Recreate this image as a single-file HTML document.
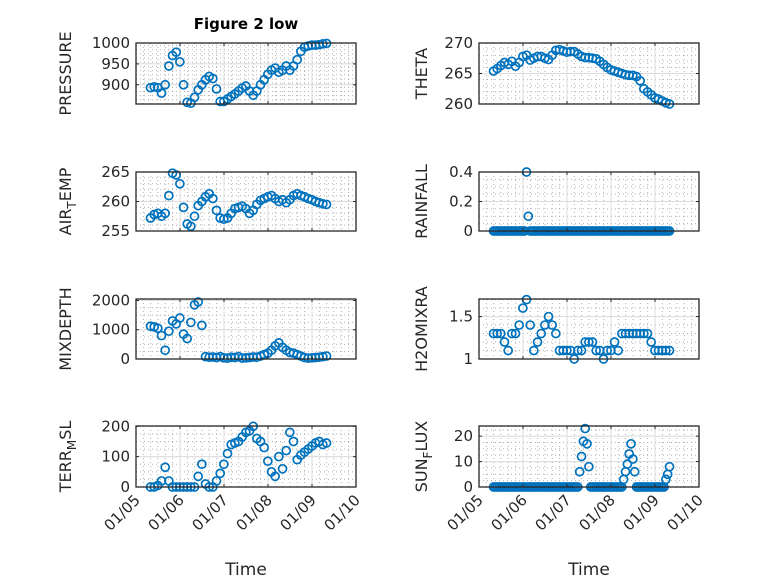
<!DOCTYPE html>
<html><head><meta charset="utf-8">
<style>
html,body{margin:0;padding:0;background:#fff;}
svg{display:block;font-family:"DejaVu Sans","Liberation Sans",sans-serif;}
</style></head>
<body>
<svg id="fig" width="778" height="583" viewBox="0 0 778 583" xmlns="http://www.w3.org/2000/svg">
<rect width="778" height="583" fill="#fff"/>
<text x="246" y="29" text-anchor="middle" font-size="15" font-weight="bold" fill="#000">Figure 2 low</text>
</svg>
<script>
// ---- data (2-hourly series) ----
const pressureVals=[893,895,893,880,900,945,970,978,955,900,858,856,870,888,900,912,920,915,890,860,860,866,872,878,885,892,897,885,875,885,900,912,925,935,940,930,935,945,935,945,960,980,990,993,995,995,996,998,999];
const thetaVals=[265.4,265.8,266.3,266.8,266.5,267,266.2,266.8,267.8,268,267.2,267.5,267.8,267.8,267.5,267.3,268,268.8,268.9,268.7,268.5,268.6,268.6,268.2,267.8,267.6,267.6,267.5,267.4,267,266.5,266,265.6,265.4,265.2,265,264.8,264.7,264.7,264.5,263.8,262.5,262,261.5,261,260.8,260.5,260.2,260];
const airTempVals=[257.2,257.8,258,257.5,258,261,264.8,264.5,263,259,256.2,255.8,257.5,259.3,260,260.8,261.3,260.5,258.5,257.2,257,257.2,258,258.8,259,259.2,258.8,258,258.5,259.5,260.2,260.5,260.8,261,260.5,260,260.3,259.8,260.3,261,261.3,261,260.8,260.5,260.3,260,259.8,259.6,259.5];
const mixDepthVals=[1120,1100,1050,800,300,950,1300,1200,1400,850,700,1250,1850,1950,1150,80,60,70,50,80,40,30,60,50,80,30,40,50,70,60,100,150,200,300,450,550,400,300,220,200,150,100,50,30,40,50,60,80,100];
const h2oVals=[1.3,1.3,1.3,1.2,1.1,1.3,1.3,1.4,1.6,1.7,1.4,1.1,1.2,1.3,1.4,1.5,1.4,1.3,1.1,1.1,1.1,1.1,1.0,1.1,1.1,1.2,1.2,1.2,1.1,1.1,1.0,1.1,1.1,1.2,1.1,1.3,1.3,1.3,1.3,1.3,1.3,1.3,1.3,1.2,1.1,1.1,1.1,1.1,1.1];
const terrVals=[0,0,5,20,65,20,0,0,0,0,0,0,0,35,75,10,0,0,20,45,75,110,140,145,150,165,180,185,200,160,150,130,85,50,35,100,60,120,180,150,90,105,115,125,135,145,150,140,145];
// ---- data (hourly series) ----
const rainVals=[
0,0,0,0,0,0,0,0,0,0,
0,0,0,0,0,0,0,0,0.4,0.1,
0,0,0,0,0,0,0,0,0,0,
0,0,0,0,0,0,0,0,0,0,
0,0,0,0,0,0,0,0,0,0,
0,0,0,0,0,0,0,0,0,0,
0,0,0,0,0,0,0,0,0,0,
0,0,0,0,0,0,0,0,0,0,
0,0,0,0,0,0,0,0,0,0,
0,0,0,0,0,0,0];
const sunVals=[
0,0,0,0,0,0,0,0,0,0,
0,0,0,0,0,0,0,0,0,0,
0,0,0,0,0,0,0,0,0,0,
0,0,0,0,0,0,0,0,0,0,
0,0,0,0,0,0,0,
6,12,18,23,17,8,
0,0,0,0,0,0,0,0,0,0,
0,0,0,0,0,0,0,0,
3,6,9,13,17,11,6,
0,0,0,0,0,0,0,0,0,0,
0,0,0,0,0,0,
3,5,8];
const xTickLabels=["01/05","01/06","01/07","01/08","01/09","01/10"];
const xTickDays=[5,6,7,8,9,10];
const pressureTicks=[900,950,1000];
const thetaTicks=[260,265,270];
const airTempTicks=[255,260,265];
const rainTicks=[0,0.2,0.4];
const mixTicks=[0,1000,2000];
const h2oTicks=[1,1.5];
const terrTicks=[0,100,200];
const sunTicks=[0,10,20];

const NS="http://www.w3.org/2000/svg";
const svg=document.getElementById('fig');
function el(tag,attrs,parent){const e=document.createElementNS(NS,tag);for(const k in attrs)e.setAttribute(k,attrs[k]);(parent||svg).appendChild(e);return e;}
const t2=pressureVals.map((_,i)=>5.33+i/12);
const tRain=rainVals.map((_,i)=>5.33+i/24);
const tSun=sunVals.map((_,i)=>5.33+i/24);

function panel(cfg){
  const x0=cfg.x0,x1=cfg.x0+220,y0=cfg.y0,y1=cfg.y1;
  const g=el('g',{});
  
  
  const xs=d=>x0+(d-5)/5*(x1-x0);
  const ys=v=>y1-(v-cfg.ymin)/(cfg.ymax-cfg.ymin)*(y1-y0);
  for(let d=5;d<10;d+=1){for(let k=1;k<6;k++){const X=xs(d+k/6);const l=el('line',{x1:X,x2:X,y1:y0,y2:y1,stroke:'#b0b0b0','stroke-width':1,'stroke-dasharray':'1 3'},g);}}
  for(let v=cfg.ymin;v<=cfg.ymax+1e-9;v+=cfg.minor){const Y=ys(v);const l=el('line',{x1:x0,x2:x1,y1:Y,y2:Y,stroke:'#b0b0b0','stroke-width':1,'stroke-dasharray':'1 3'},g);}
  xTickDays.forEach(d=>{const X=xs(d);const l=el('line',{x1:X,x2:X,y1:y0,y2:y1,stroke:'#dcdcdc','stroke-width':1},g);});
  cfg.ticks.forEach(v=>{const Y=ys(v);const l=el('line',{x1:x0,x2:x1,y1:Y,y2:Y,stroke:'#dcdcdc','stroke-width':1},g);});
  cfg.vals.forEach((v,i)=>{if(cfg.t[i]===undefined)return;const c=el('circle',{cx:xs(cfg.t[i]),cy:ys(v),r:4,fill:'none',stroke:'#0072BD','stroke-width':1.7},g);});
  const b=el('rect',{x:x0,y:y0,width:x1-x0,height:y1-y0,fill:'none',stroke:'#262626','stroke-width':1.3},g);
  
  xTickDays.forEach((d,i)=>{const X=xs(d);
    el('line',{x1:X,x2:X,y1:y1,y2:y1-3,stroke:'#262626'},g);el('line',{x1:X,x2:X,y1:y0,y2:y0+3,stroke:'#262626'},g);
    if(cfg.xlabels){const tx=el('text',{x:X+5,y:y1+14,'font-size':15,fill:'#262626','text-anchor':'end',transform:`rotate(-45 ${X+5} ${y1+14})`},g);tx.textContent=xTickLabels[i];}
  });
  cfg.ticks.forEach((v,i)=>{const Y=ys(v);
    el('line',{x1:x0,x2:x0+3,y1:Y,y2:Y,stroke:'#262626'},g);el('line',{x1:x1,x2:x1-3,y1:Y,y2:Y,stroke:'#262626'},g);
    const tx=el('text',{x:x0-6,y:Y+5,'font-size':15,fill:'#262626','text-anchor':'end'},g);tx.textContent=cfg.tickLabels[i];
  });
  const cy=(y0+y1)/2;
  const yl=el('text',{x:cfg.lx,y:cy,'font-size':16,fill:'#262626','text-anchor':'middle',transform:`rotate(-90 ${cfg.lx} ${cy})`},g);
  
  if(cfg.sub){const a=el('tspan',{},yl);a.textContent=cfg.label[0];const s=el('tspan',{'font-size':12,dy:5},yl);s.textContent=cfg.label[1];const c=el('tspan',{dy:-5},yl);c.textContent=cfg.label[2];}
  else yl.textContent=cfg.label;
  if(cfg.xlabels){const xt=el('text',{x:(x0+x1)/2,y:575,'font-size':17,fill:'#262626','text-anchor':'middle'},g);xt.textContent='Time';}
}
const L=136,R=479;
panel({name:'pressure',x0:L,y0:43,y1:104,ymin:854,ymax:1000,minor:10,vals:pressureVals,t:t2,ticks:pressureTicks,tickLabels:pressureTicks.map(String),label:'PRESSURE',lx:71});
panel({name:'theta',x0:R,y0:43,y1:104,ymin:260,ymax:270,minor:1,vals:thetaVals,t:t2,ticks:thetaTicks,tickLabels:thetaTicks.map(String),label:'THETA',lx:427});
panel({name:'air-temp',x0:L,y0:172,y1:231,ymin:255,ymax:265,minor:1,vals:airTempVals,t:t2,ticks:airTempTicks,tickLabels:airTempTicks.map(String),label:['AIR','T','EMP'],sub:true,lx:71});
panel({name:'rainfall',x0:R,y0:172,y1:231,ymin:0,ymax:0.4,minor:0.05,vals:rainVals,t:tRain,ticks:rainTicks,tickLabels:['0','0.2','0.4'],label:'RAINFALL',lx:427});
panel({name:'mixdepth',x0:L,y0:299,y1:359,ymin:0,ymax:2050,minor:250,vals:mixDepthVals,t:t2,ticks:mixTicks,tickLabels:mixTicks.map(String),label:'MIXDEPTH',lx:71});
panel({name:'h2omixra',x0:R,y0:299,y1:359,ymin:1,ymax:1.707,minor:0.1,vals:h2oVals,t:t2,ticks:h2oTicks,tickLabels:['1','1.5'],label:'H2OMIXRA',lx:427});
panel({name:'terr-msl',x0:L,y0:426,y1:487,ymin:0,ymax:201,minor:25,vals:terrVals,t:t2,ticks:terrTicks,tickLabels:terrTicks.map(String),label:['TERR','M','SL'],sub:true,lx:71,xlabels:true});
panel({name:'sun-flux',x0:R,y0:426,y1:487,ymin:0,ymax:24,minor:2.5,vals:sunVals,t:tSun,ticks:sunTicks,tickLabels:sunTicks.map(String),label:['SUN','F','LUX'],sub:true,lx:427,xlabels:true});
</script>
</body></html>
